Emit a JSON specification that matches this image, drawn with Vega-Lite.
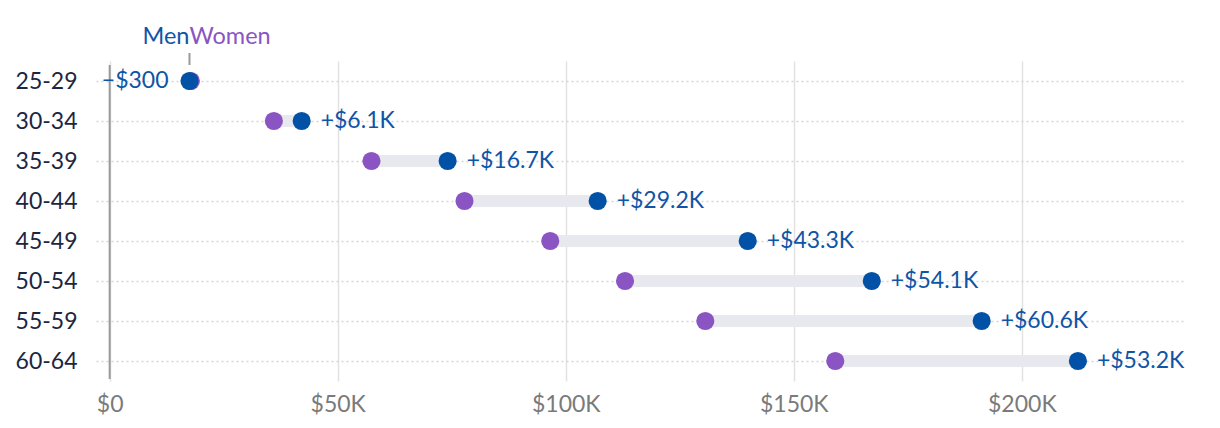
{
  "$schema": "https://vega.github.io/schema/vega-lite/v6.json",
  "autosize": {"type": "none"},
  "width": 1090,
  "height": 320,
  "padding": {"left": 96, "top": 61, "right": 34, "bottom": 47},
  "background": "white",
  "config": {
    "font": "Lato",
    "view": {"stroke": null}
  },
  "datasets": {
    "rows": [
      {"age": "25-29", "women": 17800, "men": 17500, "gap": "−$300", "side": "left"},
      {"age": "30-34", "women": 36000, "men": 42100, "gap": "+$6.1K", "side": "right"},
      {"age": "35-39", "women": 57400, "men": 74100, "gap": "+$16.7K", "side": "right"},
      {"age": "40-44", "women": 77800, "men": 107000, "gap": "+$29.2K", "side": "right"},
      {"age": "45-49", "women": 96600, "men": 139900, "gap": "+$43.3K", "side": "right"},
      {"age": "50-54", "women": 113000, "men": 167100, "gap": "+$54.1K", "side": "right"},
      {"age": "55-59", "women": 130600, "men": 191200, "gap": "+$60.6K", "side": "right"},
      {"age": "60-64", "women": 159100, "men": 212300, "gap": "+$53.2K", "side": "right"}
    ],
    "legend": [
      {"age": "25-29", "x": 17500, "zero": 0}
    ]
  },
  "data": {"name": "rows"},
  "encoding": {
    "y": {
      "field": "age",
      "type": "ordinal",
      "sort": null,
      "scale": {"type": "point", "padding": 0.5},
      "axis": {
        "title": null,
        "domain": false,
        "ticks": false,
        "grid": true,
        "gridColor": "#d6d6d6",
        "gridDash": [2, 3],
        "gridWidth": 1.5,
        "labelFontSize": 23,
        "labelColor": "#1c2642",
        "labelPadding": 19
      }
    }
  },
  "layer": [
    {
      "mark": {"type": "rule", "strokeWidth": 12, "color": "#e8e9ee"},
      "encoding": {
        "x": {
          "field": "women",
          "type": "quantitative",
          "scale": {"domain": [-3000, 236000], "nice": false, "zero": false},
          "axis": {
            "title": null,
            "domain": false,
            "ticks": false,
            "values": [0, 50000, 100000, 150000, 200000],
            "grid": true,
            "gridColor": "#e2e2e2",
            "gridWidth": 1.5,
            "labelFontSize": 23,
            "labelColor": "#7a7a7a",
            "labelPadding": 12,
            "labelExpr": "datum.value == 0 ? '$0' : '$' + (datum.value / 1000) + 'K'"
          }
        },
        "x2": {"field": "men"}
      }
    },
    {
      "data": {"name": "legend"},
      "mark": {"type": "rule", "color": "#9a9a9a", "strokeWidth": 2, "y": 4, "y2": 318},
      "encoding": {"x": {"field": "zero", "type": "quantitative"}, "y": null}
    },
    {
      "mark": {"type": "circle", "size": 330, "opacity": 1, "color": "#8a55c3"},
      "encoding": {"x": {"field": "women", "type": "quantitative"}}
    },
    {
      "mark": {"type": "circle", "size": 330, "opacity": 1, "color": "#0152a7"},
      "encoding": {"x": {"field": "men", "type": "quantitative"}}
    },
    {
      "transform": [{"filter": "datum.side == 'right'"}],
      "mark": {"type": "text", "align": "left", "baseline": "middle", "dx": 19, "fontSize": 23, "color": "#0f55a6"},
      "encoding": {"x": {"field": "men", "type": "quantitative"}, "text": {"field": "gap"}}
    },
    {
      "transform": [{"filter": "datum.side == 'left'"}],
      "mark": {"type": "text", "align": "right", "baseline": "middle", "dx": -21, "fontSize": 23, "color": "#0f55a6"},
      "encoding": {"x": {"field": "men", "type": "quantitative"}, "text": {"field": "gap"}}
    },
    {
      "data": {"name": "legend"},
      "mark": {"type": "tick", "orient": "vertical", "size": 12, "thickness": 2, "yOffset": -22, "color": "#9a9a9a", "opacity": 1},
      "encoding": {"x": {"field": "x", "type": "quantitative"}}
    },
    {
      "data": {"name": "legend"},
      "mark": {"type": "text", "align": "right", "baseline": "alphabetic", "dy": -37, "fontSize": 23.5, "color": "#0f55a6", "text": "Men"},
      "encoding": {"x": {"field": "x", "type": "quantitative"}}
    },
    {
      "data": {"name": "legend"},
      "mark": {"type": "text", "align": "left", "baseline": "alphabetic", "dy": -37, "fontSize": 23.5, "color": "#8a55c3", "text": "Women"},
      "encoding": {"x": {"field": "x", "type": "quantitative"}}
    }
  ]
}
